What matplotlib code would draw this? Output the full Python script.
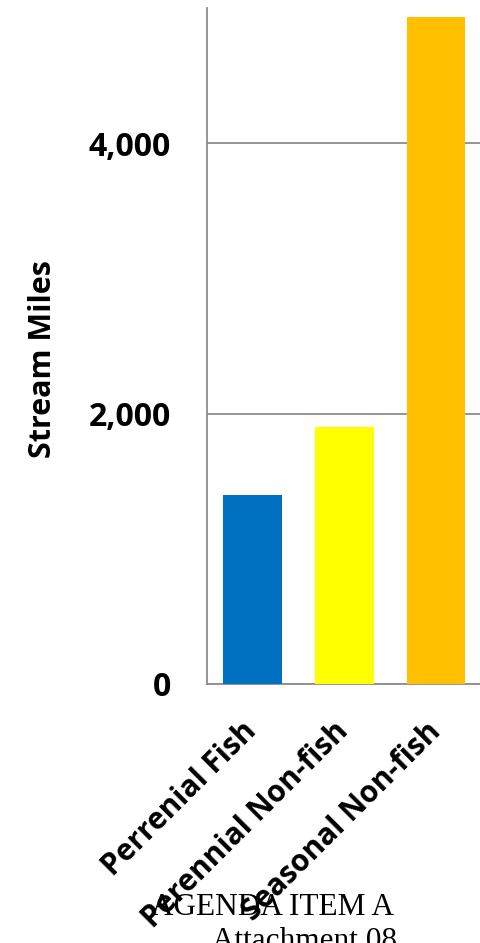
import matplotlib.pyplot as plt
from matplotlib.ticker import FuncFormatter

categories = ['Perrenial Fish', 'Perennial Non-fish', 'Seasonal Non-fish']
miles = [1400, 1900, 4930]
colors = ['#0070C0', '#FFFF00', '#FFC000']
yticks = [0, 2000, 4000]

fig = plt.figure(figsize=(4.81, 9.43), dpi=100)
ax = fig.add_axes([0.4304, 0.2747, 0.5696, 0.7168])

ax.bar(range(len(categories)), miles, width=0.64, color=colors, zorder=3)

ax.set_xlim(-0.496, 2.49)
ax.set_ylim(0, 5000)
ax.set_yticks(yticks)
ax.yaxis.set_major_formatter(FuncFormatter(lambda v, p: f'{int(v):,}'))
ax.yaxis.grid(True, color='#8c8c8c', linewidth=1.3, zorder=0)

ax.set_xticks(range(len(categories)))
ax.set_xticklabels(categories, rotation=45, ha='right', va='center',
                   rotation_mode='anchor',
                   fontsize=21.5, fontweight='bold', family='Open Sans')
for lab in ax.get_yticklabels():
    lab.set_fontsize(23)
    lab.set_fontweight('bold')
    lab.set_family('Open Sans')

ax.tick_params(axis='y', length=0, pad=26)
ax.tick_params(axis='x', length=0, pad=31)

for s in ['top', 'right']:
    ax.spines[s].set_visible(False)
for s in ['left', 'bottom']:
    ax.spines[s].set_color('#8c8c8c')
    ax.spines[s].set_linewidth(1.3)

ax.set_ylabel('Stream Miles', fontsize=22, fontweight='bold', family='Open Sans')
ax.yaxis.set_label_coords(-0.545, 0.48)

fig.text(0.566, 0.030, 'AGENDA ITEM A', family='Liberation Serif',
         fontsize=22.5, ha='center', va='baseline')
fig.text(0.634, -0.006, 'Attachment 08', family='Liberation Serif',
         fontsize=22.5, ha='center', va='baseline')

fig.savefig('out.png', dpi=100)
